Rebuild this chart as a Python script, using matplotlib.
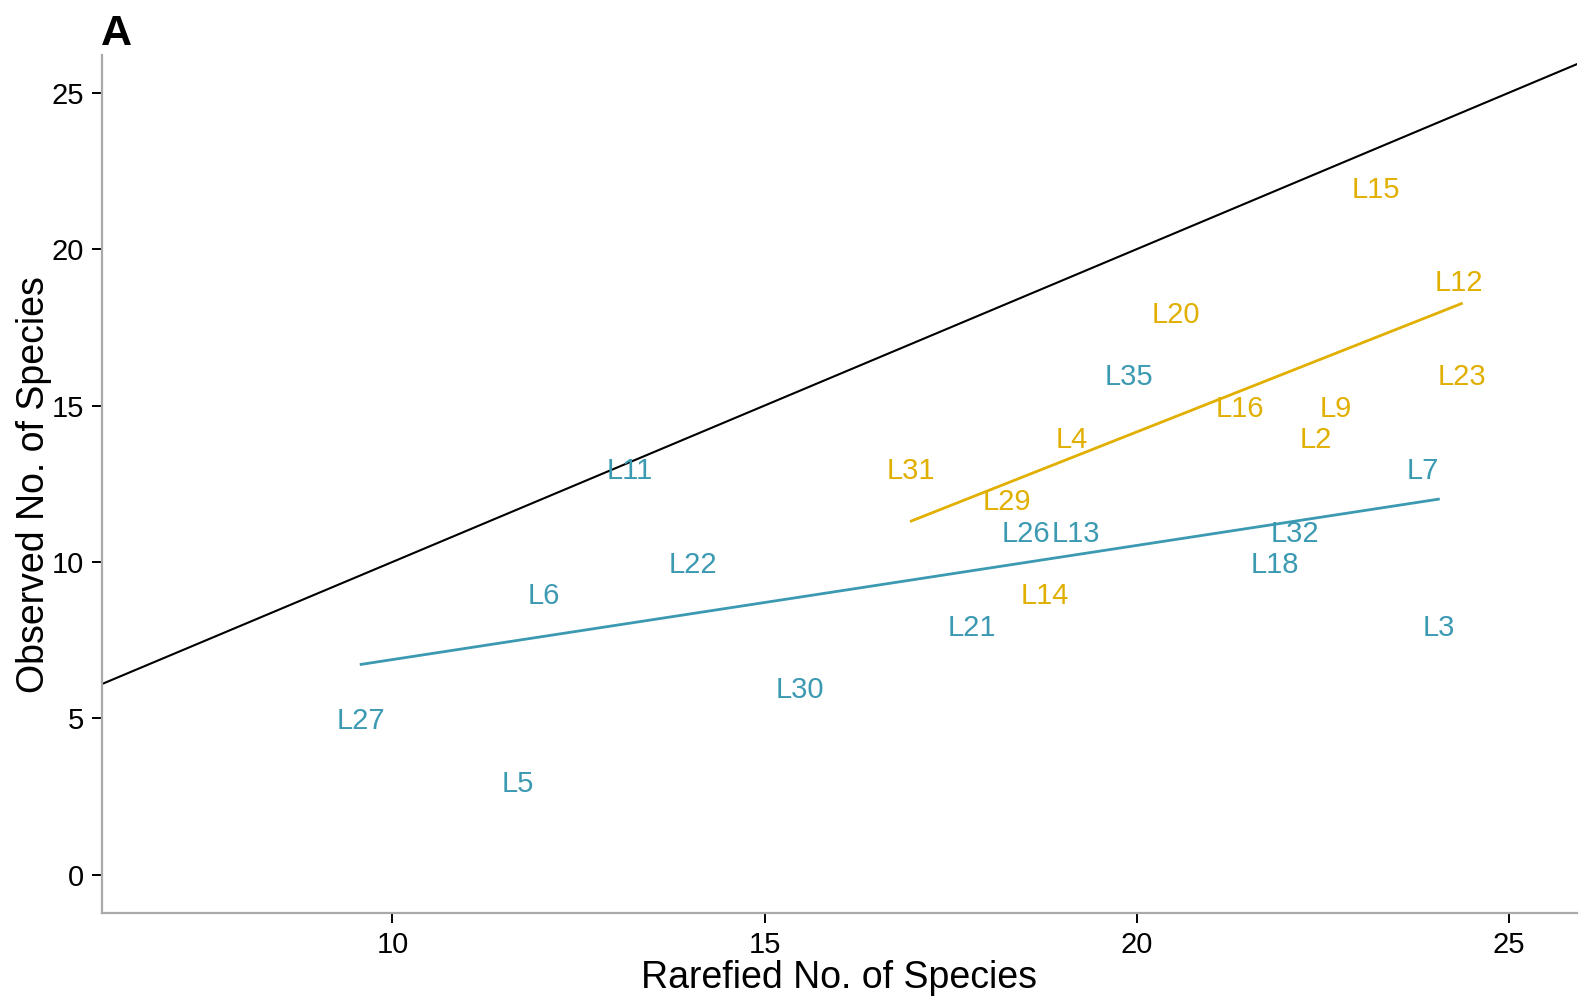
import numpy as np
import matplotlib.pyplot as plt

plt.rcParams['font.family'] = ['Liberation Sans', 'DejaVu Sans']

# sites, rarefied and observed species counts
blue_sites = ["L35", "L11", "L7", "L26", "L13", "L32", "L22", "L18",
              "L6", "L21", "L3", "L30", "L27", "L5"]
blue_rare = [19.90, 13.19, 23.84, 18.51, 19.18, 22.13, 14.04, 21.85,
             12.04, 17.78, 24.05, 15.48, 9.58, 11.69]
blue_obs = [16, 13, 13, 11, 11, 11, 10, 10, 9, 8, 8, 6, 5, 3]

orange_sites = ["L15", "L12", "L20", "L23", "L16", "L9", "L4", "L2",
                "L31", "L29", "L14"]
orange_rare = [23.21, 24.32, 20.52, 24.36, 21.38, 22.67, 19.13, 22.40,
               16.97, 18.25, 18.77]
orange_obs = [22, 19, 18, 16, 15, 15, 14, 14, 13, 12, 9]

BLUE = "#3B9AB2"
ORANGE = "#E1AF00"

fig = plt.figure(figsize=(15.8, 10.02), dpi=100)
ax = fig.add_axes([0.0646, 0.0888, 0.9334, 0.8559])

xlim = (6.10, 25.91)
ylim = (-1.22, 26.19)

# 1:1 line
ax.plot(xlim, xlim, color="black", lw=1.5, zorder=1)

for sites, xs, ys, col in [(blue_sites, blue_rare, blue_obs, BLUE),
                           (orange_sites, orange_rare, orange_obs, ORANGE)]:
    xs = np.array(xs)
    ys = np.array(ys)
    b, a = np.polyfit(xs, ys, 1)
    xx = np.array([xs.min(), xs.max()])
    ax.plot(xx, a + b * xx, color=col, lw=2, zorder=2)
    for s, x, y in zip(sites, xs, ys):
        ax.text(x, y, s, color=col, fontsize=21, ha="center",
                va="center_baseline", zorder=3)

ax.set_xlim(xlim)
ax.set_ylim(ylim)
ax.set_xticks([10, 15, 20, 25])
ax.set_yticks([0, 5, 10, 15, 20, 25])

for side in ["top", "right"]:
    ax.spines[side].set_visible(False)
for side in ["left", "bottom"]:
    ax.spines[side].set_color("#AAAAAA")
    ax.spines[side].set_linewidth(1.6)

ax.tick_params(axis="both", colors="black", labelsize=21, length=7,
               width=1.4, pad=6)
ax.set_xlabel("Rarefied No. of Species", fontsize=27, labelpad=1)
ax.set_ylabel("Observed No. of Species", fontsize=27, labelpad=0)

fig.text(0.064, 0.955, "A", fontsize=31, fontweight="bold", ha="left",
         va="baseline")

fig.savefig("out.png", dpi=100)
